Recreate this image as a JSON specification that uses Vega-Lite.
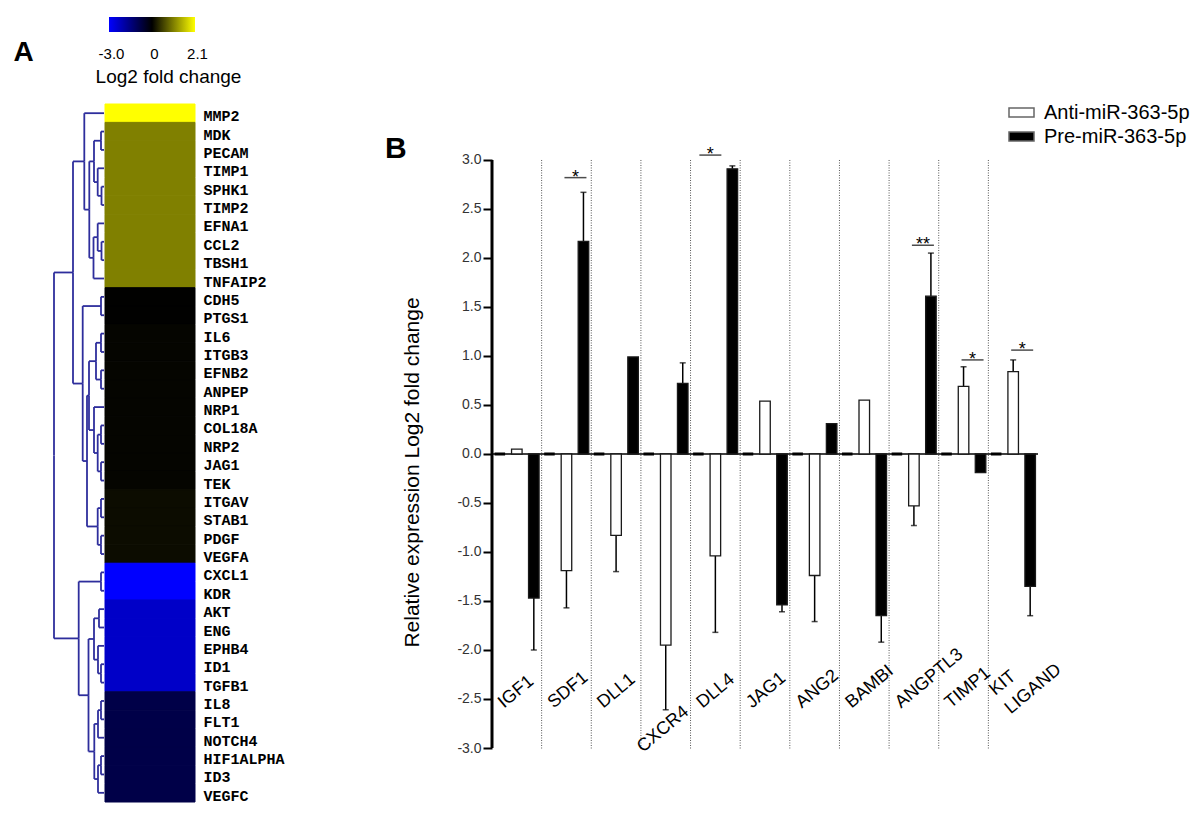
{
  "$schema": "https://vega.github.io/schema/vega-lite/v6.json",
  "background": "white",
  "padding": {"left": 13, "top": 17, "right": 0, "bottom": 10},
  "config": {"view": {"stroke": null}, "font": "Liberation Sans"},
  "datasets": {
    "heat": [
      {"gene": "MMP2", "value": 2.1},
      {"gene": "MDK", "value": 1.05},
      {"gene": "PECAM", "value": 1.05},
      {"gene": "TIMP1", "value": 1.05},
      {"gene": "SPHK1", "value": 1.05},
      {"gene": "TIMP2", "value": 1.05},
      {"gene": "EFNA1", "value": 1.05},
      {"gene": "CCL2", "value": 1.05},
      {"gene": "TBSH1", "value": 1.05},
      {"gene": "TNFAIP2", "value": 1.05},
      {"gene": "CDH5", "value": 0.01},
      {"gene": "PTGS1", "value": 0.01},
      {"gene": "IL6", "value": 0.04},
      {"gene": "ITGB3", "value": 0.04},
      {"gene": "EFNB2", "value": 0.04},
      {"gene": "ANPEP", "value": 0.04},
      {"gene": "NRP1", "value": 0.04},
      {"gene": "COL18A", "value": 0.04},
      {"gene": "NRP2", "value": 0.04},
      {"gene": "JAG1", "value": 0.04},
      {"gene": "TEK", "value": 0.04},
      {"gene": "ITGAV", "value": 0.1},
      {"gene": "STAB1", "value": 0.1},
      {"gene": "PDGF", "value": 0.1},
      {"gene": "VEGFA", "value": 0.1},
      {"gene": "CXCL1", "value": -3.0},
      {"gene": "KDR", "value": -3.0},
      {"gene": "AKT", "value": -2.35},
      {"gene": "ENG", "value": -2.35},
      {"gene": "EPHB4", "value": -2.35},
      {"gene": "ID1", "value": -2.35},
      {"gene": "TGFB1", "value": -2.35},
      {"gene": "IL8", "value": -0.85},
      {"gene": "FLT1", "value": -0.85},
      {"gene": "NOTCH4", "value": -0.85},
      {"gene": "HIF1ALPHA", "value": -0.85},
      {"gene": "ID3", "value": -0.85},
      {"gene": "VEGFC", "value": -0.85}
    ],
    "links": [
      {"h0": 0, "y0": 1, "h1": 0.06, "y1": 1.5},
      {"h0": 0, "y0": 2, "h1": 0.06, "y1": 1.5},
      {"h0": 0, "y0": 4, "h1": 0.05, "y1": 4.5},
      {"h0": 0, "y0": 5, "h1": 0.05, "y1": 4.5},
      {"h0": 0, "y0": 3, "h1": 0.126, "y1": 3.75},
      {"h0": 0.05, "y0": 4.5, "h1": 0.126, "y1": 3.75},
      {"h0": 0.06, "y0": 1.5, "h1": 0.2, "y1": 2.625},
      {"h0": 0.126, "y0": 3.75, "h1": 0.2, "y1": 2.625},
      {"h0": 0, "y0": 7, "h1": 0.05, "y1": 7.5},
      {"h0": 0, "y0": 8, "h1": 0.05, "y1": 7.5},
      {"h0": 0, "y0": 6, "h1": 0.126, "y1": 6.75},
      {"h0": 0.05, "y0": 7.5, "h1": 0.126, "y1": 6.75},
      {"h0": 0.126, "y0": 6.75, "h1": 0.21, "y1": 7.875},
      {"h0": 0, "y0": 9, "h1": 0.21, "y1": 7.875},
      {"h0": 0.2, "y0": 2.625, "h1": 0.294, "y1": 5.25},
      {"h0": 0.21, "y0": 7.875, "h1": 0.294, "y1": 5.25},
      {"h0": 0, "y0": 0, "h1": 0.394, "y1": 2.625},
      {"h0": 0.294, "y0": 5.25, "h1": 0.394, "y1": 2.625},
      {"h0": 0, "y0": 10, "h1": 0.06, "y1": 10.5},
      {"h0": 0, "y0": 11, "h1": 0.06, "y1": 10.5},
      {"h0": 0, "y0": 12, "h1": 0.06, "y1": 12.5},
      {"h0": 0, "y0": 13, "h1": 0.06, "y1": 12.5},
      {"h0": 0, "y0": 14, "h1": 0.06, "y1": 14.5},
      {"h0": 0, "y0": 15, "h1": 0.06, "y1": 14.5},
      {"h0": 0.06, "y0": 12.5, "h1": 0.16, "y1": 13.5},
      {"h0": 0.06, "y0": 14.5, "h1": 0.16, "y1": 13.5},
      {"h0": 0, "y0": 17, "h1": 0.06, "y1": 17.5},
      {"h0": 0, "y0": 18, "h1": 0.06, "y1": 17.5},
      {"h0": 0, "y0": 19, "h1": 0.06, "y1": 19.5},
      {"h0": 0, "y0": 20, "h1": 0.06, "y1": 19.5},
      {"h0": 0.06, "y0": 17.5, "h1": 0.126, "y1": 18.5},
      {"h0": 0.06, "y0": 19.5, "h1": 0.126, "y1": 18.5},
      {"h0": 0, "y0": 16, "h1": 0.2, "y1": 17.25},
      {"h0": 0.126, "y0": 18.5, "h1": 0.2, "y1": 17.25},
      {"h0": 0.16, "y0": 13.5, "h1": 0.3, "y1": 15.375},
      {"h0": 0.2, "y0": 17.25, "h1": 0.3, "y1": 15.375},
      {"h0": 0, "y0": 21, "h1": 0.06, "y1": 21.5},
      {"h0": 0, "y0": 22, "h1": 0.06, "y1": 21.5},
      {"h0": 0, "y0": 23, "h1": 0.06, "y1": 23.5},
      {"h0": 0, "y0": 24, "h1": 0.06, "y1": 23.5},
      {"h0": 0.06, "y0": 21.5, "h1": 0.126, "y1": 22.5},
      {"h0": 0.06, "y0": 23.5, "h1": 0.126, "y1": 22.5},
      {"h0": 0.3, "y0": 15.375, "h1": 0.34, "y1": 18.9375},
      {"h0": 0.126, "y0": 22.5, "h1": 0.34, "y1": 18.9375},
      {"h0": 0.06, "y0": 10.5, "h1": 0.426, "y1": 14.71875},
      {"h0": 0.34, "y0": 18.9375, "h1": 0.426, "y1": 14.71875},
      {"h0": 0.394, "y0": 2.625, "h1": 0.62, "y1": 8.671875},
      {"h0": 0.426, "y0": 14.71875, "h1": 0.62, "y1": 8.671875},
      {"h0": 0, "y0": 25, "h1": 0.06, "y1": 25.5},
      {"h0": 0, "y0": 26, "h1": 0.06, "y1": 25.5},
      {"h0": 0, "y0": 27, "h1": 0.1, "y1": 27.5},
      {"h0": 0, "y0": 28, "h1": 0.1, "y1": 27.5},
      {"h0": 0, "y0": 30, "h1": 0.06, "y1": 30.5},
      {"h0": 0, "y0": 31, "h1": 0.06, "y1": 30.5},
      {"h0": 0, "y0": 29, "h1": 0.12, "y1": 29.75},
      {"h0": 0.06, "y0": 30.5, "h1": 0.12, "y1": 29.75},
      {"h0": 0.1, "y0": 27.5, "h1": 0.2, "y1": 28.625},
      {"h0": 0.12, "y0": 29.75, "h1": 0.2, "y1": 28.625},
      {"h0": 0, "y0": 32, "h1": 0.06, "y1": 32.5},
      {"h0": 0, "y0": 33, "h1": 0.06, "y1": 32.5},
      {"h0": 0.06, "y0": 32.5, "h1": 0.12, "y1": 33.25},
      {"h0": 0, "y0": 34, "h1": 0.12, "y1": 33.25},
      {"h0": 0, "y0": 35, "h1": 0.06, "y1": 35.5},
      {"h0": 0, "y0": 36, "h1": 0.06, "y1": 35.5},
      {"h0": 0.06, "y0": 35.5, "h1": 0.12, "y1": 36.25},
      {"h0": 0, "y0": 37, "h1": 0.12, "y1": 36.25},
      {"h0": 0.12, "y0": 33.25, "h1": 0.194, "y1": 34.75},
      {"h0": 0.12, "y0": 36.25, "h1": 0.194, "y1": 34.75},
      {"h0": 0.2, "y0": 28.625, "h1": 0.31, "y1": 31.6875},
      {"h0": 0.194, "y0": 34.75, "h1": 0.31, "y1": 31.6875},
      {"h0": 0.06, "y0": 25.5, "h1": 0.506, "y1": 28.59375},
      {"h0": 0.31, "y0": 31.6875, "h1": 0.506, "y1": 28.59375},
      {"h0": 0.62, "y0": 8.671875, "h1": 1, "y1": 18.6328},
      {"h0": 0.506, "y0": 28.59375, "h1": 1, "y1": 18.6328}
    ],
    "bars": [
      {"gene": "IGF1", "series": "Control", "value": 0},
      {"gene": "IGF1", "series": "Anti-miR-363-5p", "value": 0.05},
      {"gene": "IGF1", "series": "Pre-miR-363-5p", "value": -1.47, "err": -2.0},
      {"gene": "SDF1", "series": "Control", "value": 0},
      {"gene": "SDF1", "series": "Anti-miR-363-5p", "value": -1.19, "err": -1.57},
      {"gene": "SDF1", "series": "Pre-miR-363-5p", "value": 2.17, "err": 2.67},
      {"gene": "DLL1", "series": "Control", "value": 0},
      {"gene": "DLL1", "series": "Anti-miR-363-5p", "value": -0.83, "err": -1.2},
      {"gene": "DLL1", "series": "Pre-miR-363-5p", "value": 0.99},
      {"gene": "CXCR4", "series": "Control", "value": 0},
      {"gene": "CXCR4", "series": "Anti-miR-363-5p", "value": -1.95, "err": -2.61},
      {"gene": "CXCR4", "series": "Pre-miR-363-5p", "value": 0.72, "err": 0.93},
      {"gene": "DLL4", "series": "Control", "value": 0},
      {"gene": "DLL4", "series": "Anti-miR-363-5p", "value": -1.04, "err": -1.82},
      {"gene": "DLL4", "series": "Pre-miR-363-5p", "value": 2.91, "err": 2.94},
      {"gene": "JAG1", "series": "Control", "value": 0},
      {"gene": "JAG1", "series": "Anti-miR-363-5p", "value": 0.54},
      {"gene": "JAG1", "series": "Pre-miR-363-5p", "value": -1.54, "err": -1.61},
      {"gene": "ANG2", "series": "Control", "value": 0},
      {"gene": "ANG2", "series": "Anti-miR-363-5p", "value": -1.24, "err": -1.71},
      {"gene": "ANG2", "series": "Pre-miR-363-5p", "value": 0.31},
      {"gene": "BAMBI", "series": "Control", "value": 0},
      {"gene": "BAMBI", "series": "Anti-miR-363-5p", "value": 0.55},
      {"gene": "BAMBI", "series": "Pre-miR-363-5p", "value": -1.65, "err": -1.92},
      {"gene": "ANGPTL3", "series": "Control", "value": 0},
      {"gene": "ANGPTL3", "series": "Anti-miR-363-5p", "value": -0.53, "err": -0.73},
      {"gene": "ANGPTL3", "series": "Pre-miR-363-5p", "value": 1.61, "err": 2.05},
      {"gene": "TIMP1", "series": "Control", "value": 0},
      {"gene": "TIMP1", "series": "Anti-miR-363-5p", "value": 0.69, "err": 0.89},
      {"gene": "TIMP1", "series": "Pre-miR-363-5p", "value": -0.19},
      {"gene": "KIT LIGAND", "series": "Control", "value": 0},
      {"gene": "KIT LIGAND", "series": "Anti-miR-363-5p", "value": 0.84, "err": 0.96},
      {"gene": "KIT LIGAND", "series": "Pre-miR-363-5p", "value": -1.35, "err": -1.65}
    ],
    "sig": [
      {"gene": "SDF1", "value": 2.82, "label": "*"},
      {"gene": "DLL4", "value": 3.05, "label": "*"},
      {"gene": "ANGPTL3", "value": 2.13, "label": "**"},
      {"gene": "TIMP1", "value": 0.96, "label": "*"},
      {"gene": "KIT LIGAND", "value": 1.06, "label": "*"}
    ]
  },
  "bounds": "flush",
  "spacing": 438,
  "hconcat": [
    {
      "bounds": "flush",
      "spacing": 72,
      "vconcat": [
        {
          "width": 141,
          "height": 15,
          "title": {"text": "A", "orient": "left", "anchor": "middle", "frame": "group", "angle": 0, "align": "right", "baseline": "middle", "offset": 0, "dy": 28, "fontSize": 28, "fontWeight": "bold", "color": "#000"},
          "data": {"values": [{"lo": -3, "hi": 2.1}]},
          "mark": {"type": "rect", "fill": {"gradient": "linear", "x1": 0, "y1": 0, "x2": 1, "y2": 0, "stops": [{"offset": 0, "color": "#0000ff"}, {"offset": 0.5, "color": "#000000"}, {"offset": 1, "color": "#ffff00"}]}},
          "encoding": {
            "x": {"field": "lo", "type": "quantitative", "scale": {"domain": [-3, 0, 2.1], "range": [55, 98, 141], "nice": false, "zero": false},
              "axis": {"values": [-3, 0, 2.1], "domain": false, "ticks": false, "grid": false, "labelExpr": "datum.value < 0 ? '-3.0' : (datum.value > 0 ? '2.1' : '0')", "labelFontSize": 15, "labelColor": "#000", "labelPadding": 14, "labelOffset": 2, "labelOverlap": false, "labelFlush": false, "title": "Log2 fold change", "titleFontSize": 19, "titleFontWeight": "normal", "titleColor": "#000", "titleX": 114, "titleY": 35}},
            "x2": {"field": "hi"},
            "y": {"datum": "bar", "type": "nominal", "scale": {"paddingInner": 0, "paddingOuter": 0}, "axis": null}
          }
        },
        {
          "bounds": "flush",
          "spacing": 1,
          "hconcat": [
            {
              "width": 50,
              "height": 698,
              "data": {"name": "links"},
              "layer": [
                {
                  "mark": {"type": "rule", "color": "#2e2e9c", "strokeWidth": 1.8},
                  "encoding": {
                    "x": {"field": "h0", "type": "quantitative", "scale": {"domain": [0, 1], "reverse": true, "nice": false, "zero": false}, "axis": null},
                    "x2": {"field": "h1"},
                    "y": {"field": "y0", "type": "quantitative", "scale": {"domain": [-0.5, 37.5], "reverse": true, "nice": false, "zero": false}, "axis": null}
                  }
                },
                {
                  "mark": {"type": "rule", "color": "#2e2e9c", "strokeWidth": 1.8},
                  "encoding": {
                    "x": {"field": "h1", "type": "quantitative", "axis": null},
                    "y": {"field": "y0", "type": "quantitative", "axis": null},
                    "y2": {"field": "y1"}
                  }
                }
              ]
            },
            {
              "width": 90,
              "height": 698,
              "data": {"name": "heat"},
              "mark": {"type": "rect", "strokeWidth": 1},
              "encoding": {
                "y": {"field": "gene", "type": "nominal", "sort": null, "scale": {"paddingInner": 0, "paddingOuter": 0},
                  "axis": {"orient": "right", "domain": false, "ticks": false, "labelPadding": 8, "labelFont": "Liberation Mono", "labelFontWeight": "bold", "labelFontSize": 15, "labelColor": "#000", "labelOffset": 3, "labelBaseline": "middle", "labelOverlap": false, "title": null}},
                "x": {"datum": "lfc", "type": "nominal", "scale": {"paddingInner": 0, "paddingOuter": 0}, "axis": null},
                "fill": {"field": "value", "type": "quantitative", "scale": {"domain": [-3, 0, 2.1], "range": ["#0000ff", "#000000", "#ffff00"], "interpolate": "rgb"}, "legend": null},
                "stroke": {"field": "value", "type": "quantitative", "scale": {"domain": [-3, 0, 2.1], "range": ["#0000ff", "#000000", "#ffff00"], "interpolate": "rgb"}, "legend": null}
              }
            }
          ]
        }
      ]
    },
    {
      "width": 546,
      "height": 731,
      "title": {"text": "B", "orient": "top", "anchor": "start", "frame": "group", "align": "left", "baseline": "top", "offset": 0, "dx": -107, "dy": 147, "fontSize": 30, "fontWeight": "bold", "color": "#000"},
      "data": {"name": "bars"},
      "layer": [
        {
          "transform": [{"filter": "datum.series == 'Control' && datum.gene != 'IGF1'"}],
          "mark": {"type": "rule", "color": "#555", "strokeWidth": 1, "strokeDash": [1, 1.5]},
          "encoding": {
            "x": {"field": "gene", "type": "nominal", "bandPosition": 0, "scale": {"domain": ["IGF1", "SDF1", "DLL1", "CXCR4", "DLL4", "JAG1", "ANG2", "BAMBI", "ANGPTL3", "TIMP1", "KIT LIGAND"], "paddingInner": 0, "paddingOuter": 0}, "axis": null},
            "y": {"datum": 3, "type": "quantitative", "scale": {"domain": [-3, 4.459], "nice": false, "zero": false}},
            "y2": {"datum": -3.02}
          }
        },
        {
          "transform": [{"filter": "datum.series == 'Control' && datum.gene == 'IGF1'"}],
          "mark": {"type": "rule", "color": "#000", "strokeWidth": 1.5},
          "encoding": {"y": {"datum": 0, "type": "quantitative"}}
        },
        {
          "transform": [{"filter": "datum.err != null"}],
          "mark": {"type": "rule", "color": "#000", "strokeWidth": 1.5},
          "encoding": {
            "x": {"field": "gene", "type": "nominal", "axis": null},
            "xOffset": {"field": "series", "type": "nominal", "scale": {"domain": ["Control", "Anti-miR-363-5p", "Pre-miR-363-5p"], "paddingInner": 0.38, "paddingOuter": 0.15}},
            "y": {"field": "value", "type": "quantitative"},
            "y2": {"field": "err"}
          }
        },
        {
          "transform": [{"filter": "datum.err != null"}],
          "mark": {"type": "tick", "color": "#000", "size": 6, "thickness": 1.5},
          "encoding": {
            "x": {"field": "gene", "type": "nominal", "axis": null},
            "xOffset": {"field": "series", "type": "nominal"},
            "y": {"field": "err", "type": "quantitative"}
          }
        },
        {
          "transform": [{"filter": "datum.series != 'Control'"}],
          "mark": {"type": "bar", "stroke": "#1a1a1a", "strokeWidth": 1.3},
          "encoding": {
            "x": {"field": "gene", "type": "nominal", "axis": null},
            "xOffset": {"field": "series", "type": "nominal"},
            "y": {"field": "value", "type": "quantitative",
              "axis": {"values": [-3, -2.5, -2, -1.5, -1, -0.5, 0, 0.5, 1, 1.5, 2, 2.5, 3], "labelExpr": "replace(format(datum.value, '.1f'), '\u2212', '-')", "domain": false, "grid": false, "tickSize": 9, "tickWidth": 2, "tickColor": "#000", "labelFontSize": 14, "labelColor": "#333", "labelPadding": 2, "labelOverlap": false, "title": "Relative expression Log2 fold change", "titleFontSize": 21, "titleFontWeight": "normal", "titleColor": "#000", "titleX": -70, "titleY": 455}},
            "fill": {"field": "series", "type": "nominal", "scale": {"domain": ["Anti-miR-363-5p", "Pre-miR-363-5p"], "range": ["#ffffff", "#000000"]},
              "legend": {"title": null, "orient": "none", "legendX": 516, "legendY": 82, "symbolType": "M-1,-0.36L1,-0.36L1,0.36L-1,0.36Z", "symbolSize": 625, "symbolStrokeColor": "#666", "symbolStrokeWidth": 1.5, "labelFontSize": 20, "labelColor": "#000", "labelOffset": 9, "rowPadding": -5, "padding": 0}}
          }
        },
        {
          "transform": [{"filter": "datum.series == 'Control'"}],
          "mark": {"type": "bar", "color": "#000", "stroke": "#000", "strokeWidth": 3},
          "encoding": {
            "x": {"field": "gene", "type": "nominal", "axis": null},
            "xOffset": {"field": "series", "type": "nominal"},
            "y": {"field": "value", "type": "quantitative"}
          }
        },
        {
          "transform": [{"filter": "datum.series == 'Control' && datum.gene == 'IGF1'"}],
          "mark": {"type": "rule", "color": "#000", "strokeWidth": 3},
          "encoding": {
            "x": {"field": "gene", "type": "nominal", "bandPosition": 0, "axis": null},
            "y": {"datum": 3, "type": "quantitative"},
            "y2": {"datum": -3}
          }
        },
        {
          "data": {"name": "sig"},
          "transform": [{"filter": "datum.gene != 'DLL4'"}],
          "mark": {"type": "tick", "color": "#000", "size": 22, "thickness": 1.5, "xOffset": 9},
          "encoding": {
            "x": {"field": "gene", "type": "nominal", "axis": null},
            "y": {"field": "value", "type": "quantitative"}
          }
        },
        {
          "data": {"name": "sig"},
          "transform": [{"filter": "datum.gene == 'DLL4'"}],
          "mark": {"type": "tick", "color": "#000", "size": 22, "thickness": 1.5, "xOffset": -5},
          "encoding": {
            "x": {"field": "gene", "type": "nominal", "axis": null},
            "y": {"field": "value", "type": "quantitative"}
          }
        },
        {
          "data": {"name": "sig"},
          "transform": [{"filter": "datum.gene != 'DLL4'"}],
          "mark": {"type": "text", "color": "#000", "fontSize": 18, "align": "center", "baseline": "alphabetic", "dy": 5, "xOffset": 9},
          "encoding": {
            "x": {"field": "gene", "type": "nominal", "axis": null},
            "y": {"field": "value", "type": "quantitative"},
            "text": {"field": "label"}
          }
        },
        {
          "data": {"name": "sig"},
          "transform": [{"filter": "datum.gene == 'DLL4'"}],
          "mark": {"type": "text", "color": "#000", "fontSize": 18, "align": "center", "baseline": "alphabetic", "dy": 5, "xOffset": -5},
          "encoding": {
            "x": {"field": "gene", "type": "nominal", "axis": null},
            "y": {"field": "value", "type": "quantitative"},
            "text": {"field": "label"}
          }
        },
        {
          "transform": [{"filter": "datum.series == 'Control' && datum.gene != 'CXCR4' && datum.gene != 'KIT LIGAND'"}],
          "mark": {"type": "text", "color": "#000", "fontSize": 18, "align": "left", "baseline": "alphabetic", "angle": 320, "xOffset": 12},
          "encoding": {
            "x": {"field": "gene", "type": "nominal", "bandPosition": 0, "axis": null},
            "y": {"datum": -2.6, "type": "quantitative"},
            "text": {"field": "gene"}
          }
        },
        {
          "transform": [{"filter": "datum.series == 'Control' && datum.gene == 'CXCR4'"}],
          "mark": {"type": "text", "color": "#000", "fontSize": 18, "align": "left", "baseline": "alphabetic", "angle": 320, "xOffset": 2},
          "encoding": {
            "x": {"field": "gene", "type": "nominal", "bandPosition": 0, "axis": null},
            "y": {"datum": -3.05, "type": "quantitative"},
            "text": {"field": "gene"}
          }
        },
        {
          "transform": [{"filter": "datum.series == 'Control' && datum.gene == 'KIT LIGAND'"}],
          "mark": {"type": "text", "color": "#000", "fontSize": 18, "align": "left", "baseline": "alphabetic", "angle": 320, "xOffset": 7, "lineBreak": " ", "lineHeight": 24},
          "encoding": {
            "x": {"field": "gene", "type": "nominal", "bandPosition": 0, "axis": null},
            "y": {"datum": -2.47, "type": "quantitative"},
            "text": {"field": "gene"}
          }
        }
      ]
    }
  ]
}
